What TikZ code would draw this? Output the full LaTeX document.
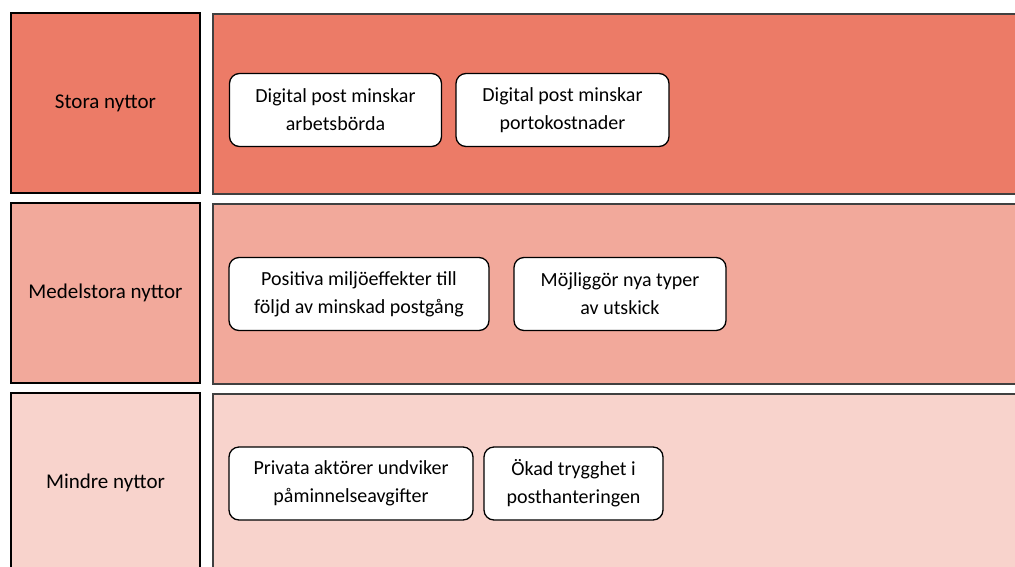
\documentclass[tikz,border=0pt]{standalone}
\usepackage{fontspec}
\setmainfont{Carlito}
\definecolor{storafill}{HTML}{EC7B67}
\definecolor{medelfill}{HTML}{F2A99B}
\definecolor{mindrefill}{HTML}{F8D3CC}
\tikzset{
  level/.style={draw=black, line width=1.8pt, inner sep=0pt, minimum width=189pt, minimum height=180pt, font=\fontsize{21}{25}\selectfont},
  band/.style={draw=black!75, line width=1.8pt, inner sep=0pt, anchor=north west, minimum width=830pt, minimum height=180pt},
  benefit/.style={draw=black, fill=white, rounded corners=10pt, line width=1.3pt, inner sep=0pt, align=center, minimum height=73pt, font=\fontsize{20}{28}\selectfont},
}
\begin{document}
\begin{tikzpicture}[x=1pt,y=-1pt]
        \useasboundingbox (0,0) rectangle (1015,566);
        \fill[white] (0,0) rectangle (1015,566);

        % stora nyttor
        \node[level, fill=storafill] (stora) at (105.5,103) {Stora nyttor};
        \node[band, fill=storafill] (storaband) at (212,13) {};
        \node[benefit, minimum width=212pt] (arbete) at (335.5,110) {Digital post minskar\\arbetsbörda};
        \node[benefit, minimum width=213pt] (porto) at (562.5,110) {Digital post minskar\\portokostnader};

        % medelstora nyttor
        \node[level, fill=medelfill] (medel) at (105.5,293) {Medelstora nyttor};
        \node[band, fill=medelfill] (medelband) at (212,203) {};
        \node[benefit, minimum width=260pt] (miljo) at (359,294) {Positiva miljöeffekter till\\följd av minskad postgång};
        \node[benefit, minimum width=212pt] (utskick) at (620,294) {Möjliggör nya typer\\av utskick};

        % mindre nyttor
        \node[level, fill=mindrefill] (mindre) at (105.5,483) {Mindre nyttor};
        \node[band, fill=mindrefill] (mindreband) at (212,393) {};
        \node[benefit, minimum width=244pt] (avgift) at (351,483.5) {Privata aktörer undviker\\påminnelseavgifter};
        \node[benefit, minimum width=179pt] (trygghet) at (573.5,483.5) {Ökad trygghet i\\posthanteringen};
    \end{tikzpicture}
\end{document}
